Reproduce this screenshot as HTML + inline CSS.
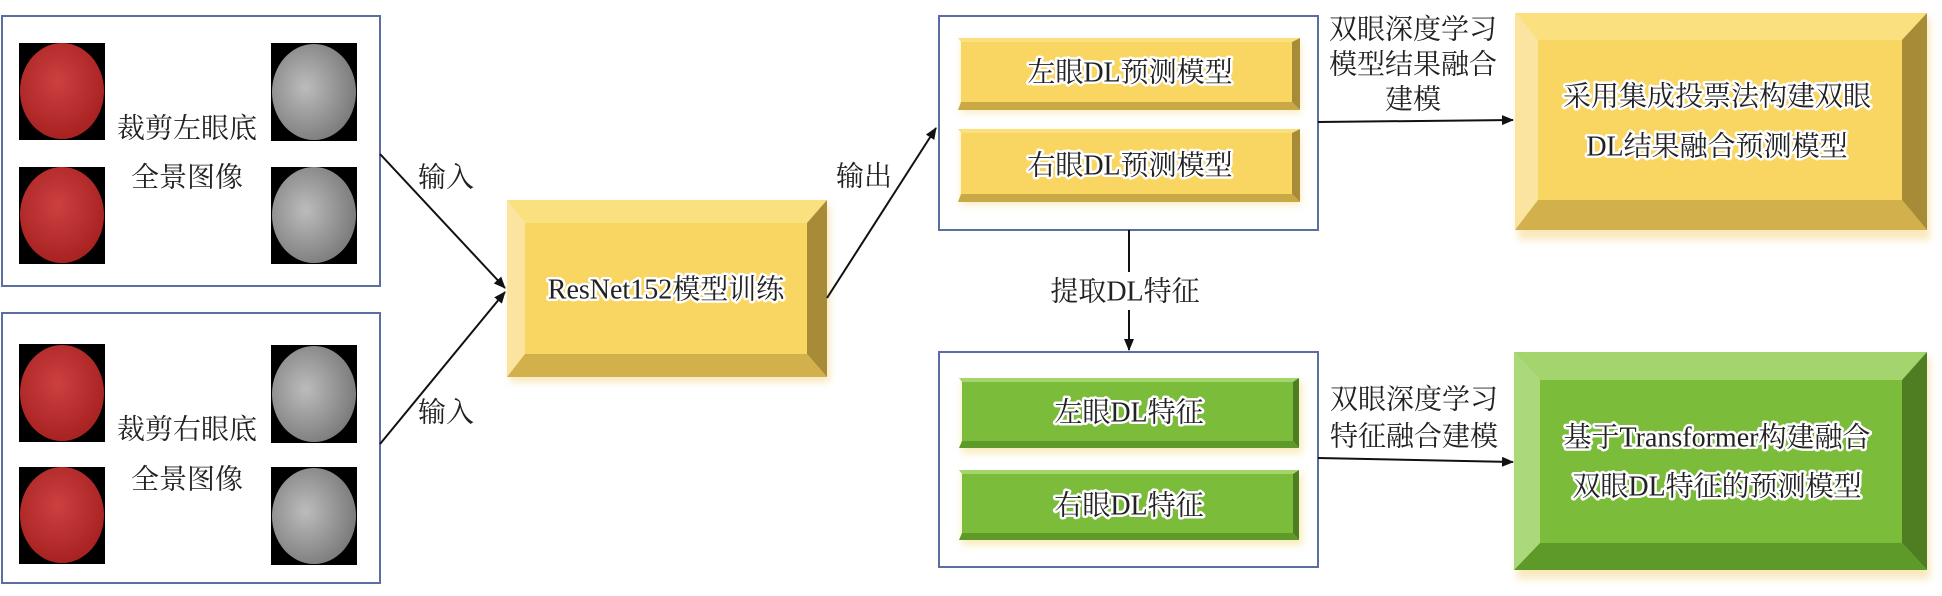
<!DOCTYPE html>
<html><head><meta charset="utf-8"><style>
html,body{margin:0;padding:0;background:#fff;}
svg{display:block;}
text{font-family:"Liberation Serif","Noto Serif CJK SC","Noto Sans CJK SC",serif;font-size:28px;fill:#222;text-anchor:middle;dominant-baseline:central;}
.h{stroke:#fff;stroke-width:5px;paint-order:stroke;stroke-linejoin:round;}
</style></head><body>
<svg width="1942" height="596" viewBox="0 0 1942 596" xmlns="http://www.w3.org/2000/svg">
<defs>
<marker id="ar" markerWidth="12" markerHeight="10" refX="11" refY="5" orient="auto" markerUnits="userSpaceOnUse">
<path d="M0,0 L12,5 L0,10 Z" fill="#111"/></marker>
<radialGradient id="red" cx="45%" cy="40%" r="60%"><stop offset="0" stop-color="#cc4040"/><stop offset="1" stop-color="#a82222"/></radialGradient>
<radialGradient id="gry" cx="40%" cy="45%" r="60%"><stop offset="0" stop-color="#bcbcbc"/><stop offset="1" stop-color="#7c7c7c"/></radialGradient>
<filter id="sh" x="-5%" y="-5%" width="110%" height="120%"><feGaussianBlur stdDeviation="4"/></filter>
</defs>

<!-- left boxes -->
<rect x="2" y="16" width="378" height="270" fill="#fff" stroke="#5a6fa0" stroke-width="2"/>
<rect x="2" y="313" width="378" height="270" fill="#fff" stroke="#5a6fa0" stroke-width="2"/>
<g>
<rect x="19" y="43" width="86" height="97" fill="#000"/><ellipse cx="62" cy="91" rx="42" ry="48" fill="url(#red)"/>
<rect x="19" y="167" width="86" height="97" fill="#000"/><ellipse cx="62" cy="215" rx="42" ry="48" fill="url(#red)"/>
<rect x="271" y="43" width="86" height="98" fill="#000"/><ellipse cx="314" cy="92" rx="42" ry="48" fill="url(#gry)"/>
<rect x="271" y="167" width="86" height="97" fill="#000"/><ellipse cx="314" cy="215" rx="42" ry="48" fill="url(#gry)"/>
<rect x="19" y="344" width="86" height="98" fill="#000"/><ellipse cx="62" cy="393" rx="42" ry="48" fill="url(#red)"/>
<rect x="19" y="467" width="86" height="97" fill="#000"/><ellipse cx="62" cy="515" rx="42" ry="48" fill="url(#red)"/>
<rect x="271" y="345" width="86" height="98" fill="#000"/><ellipse cx="314" cy="394" rx="42" ry="48" fill="url(#gry)"/>
<rect x="271" y="467" width="86" height="98" fill="#000"/><ellipse cx="314" cy="516" rx="42" ry="48" fill="url(#gry)"/>
</g>
<text x="187" y="129">裁剪左眼底</text>
<text x="187" y="178">全景图像</text>
<text x="187" y="430">裁剪右眼底</text>
<text x="187" y="480">全景图像</text>

<!-- arrows left -->
<line x1="380" y1="154" x2="505" y2="288" stroke="#111" stroke-width="2" marker-end="url(#ar)"/>
<line x1="380" y1="444" x2="505" y2="292" stroke="#111" stroke-width="2" marker-end="url(#ar)"/>
<text x="446" y="178">输入</text>
<text x="446" y="413">输入</text>

<!-- ResNet box -->
<rect x="510" y="205" width="320" height="177" fill="#f3d27a" filter="url(#sh)" opacity="0.5"/>
<rect x="525" y="223" width="284" height="131" fill="#f9d661"/>
<polygon points="507,200 827,200 807,223 525,223" fill="#fbe07f"/>
<polygon points="507,200 525,223 525,354 507,377" fill="#fbe3a0"/>
<polygon points="827,200 827,377 807,354 807,223" fill="#a88b36"/>
<polygon points="507,377 827,377 807,354 525,354" fill="#d2b04c"/>
<text x="666" y="290" class="h">ResNet152模型训练</text>

<line x1="827" y1="298" x2="936" y2="128" stroke="#111" stroke-width="2" marker-end="url(#ar)"/>
<text x="864" y="177">输出</text>

<!-- top mid box -->
<rect x="939" y="16" width="379" height="214" fill="#fff" stroke="#5a6fa0" stroke-width="2"/>
<rect x="961" y="41" width="340" height="72" fill="#f7df9a" filter="url(#sh)" opacity="0.6"/>
<rect x="961" y="40" width="331" height="62" fill="#f9d661"/>
<polygon points="958,38 1300,38 1292,42 961,42" fill="#fbe07f"/>
<polygon points="1300,38 1300,110 1292,102 1292,42" fill="#a88b36"/>
<polygon points="958,110 1300,110 1292,102 961,102" fill="#c9a945"/>
<text x="1130" y="73" class="h">左眼DL预测模型</text>
<rect x="961" y="132" width="340" height="73" fill="#f7df9a" filter="url(#sh)" opacity="0.6"/>
<rect x="961" y="131" width="331" height="63" fill="#f9d661"/>
<polygon points="958,129 1300,129 1292,133 961,133" fill="#fbe07f"/>
<polygon points="1300,129 1300,202 1292,194 1292,133" fill="#a88b36"/>
<polygon points="958,202 1300,202 1292,194 961,194" fill="#c9a945"/>
<text x="1130" y="166" class="h">右眼DL预测模型</text>

<line x1="1318" y1="122" x2="1513" y2="120" stroke="#111" stroke-width="2" marker-end="url(#ar)"/>
<text x="1413" y="30">双眼深度学习</text>
<text x="1413" y="65">模型结果融合</text>
<text x="1413" y="100">建模</text>

<!-- yellow big -->
<rect x="1518" y="18" width="412" height="222" fill="#f3d27a" filter="url(#sh)" opacity="0.5"/>
<rect x="1538" y="40" width="364" height="160" fill="#f9d661"/>
<polygon points="1515,13 1927,13 1902,40 1538,40" fill="#fbe07f"/>
<polygon points="1515,13 1538,40 1538,200 1515,230" fill="#fbe3a0"/>
<polygon points="1927,13 1927,230 1902,200 1902,40" fill="#a88b36"/>
<polygon points="1515,230 1927,230 1902,200 1538,200" fill="#d2b04c"/>
<text x="1717" y="97" class="h">采用集成投票法构建双眼</text>
<text x="1717" y="147" class="h">DL结果融合预测模型</text>

<!-- extract line -->
<line x1="1129" y1="230" x2="1129" y2="272" stroke="#111" stroke-width="2"/>
<text x="1125" y="292">提取DL特征</text>
<line x1="1129" y1="310" x2="1129" y2="350" stroke="#111" stroke-width="2" marker-end="url(#ar)"/>

<!-- bottom mid box -->
<rect x="939" y="352" width="379" height="215" fill="#fff" stroke="#5a6fa0" stroke-width="2"/>
<rect x="962" y="381" width="340" height="72" fill="#f5dd8a" filter="url(#sh)" opacity="0.6"/>
<rect x="962" y="380" width="331" height="61" fill="#7cbc3b"/>
<polygon points="959,378 1299,378 1293,382 962,382" fill="#a4d46e"/>
<polygon points="1299,378 1299,448 1293,441 1293,382" fill="#4e7d22"/>
<polygon points="959,448 1299,448 1293,441 962,441" fill="#5e9a2a"/>
<text x="1129" y="413" class="h">左眼DL特征</text>
<rect x="962" y="473" width="340" height="72" fill="#f5dd8a" filter="url(#sh)" opacity="0.6"/>
<rect x="962" y="472" width="331" height="61" fill="#7cbc3b"/>
<polygon points="959,470 1299,470 1293,474 962,474" fill="#a4d46e"/>
<polygon points="1299,470 1299,540 1293,533 1293,474" fill="#4e7d22"/>
<polygon points="959,540 1299,540 1293,533 962,533" fill="#5e9a2a"/>
<text x="1129" y="506" class="h">右眼DL特征</text>

<line x1="1318" y1="458" x2="1513" y2="462" stroke="#111" stroke-width="2" marker-end="url(#ar)"/>
<text x="1414" y="400">双眼深度学习</text>
<text x="1414" y="437">特征融合建模</text>

<!-- green big -->
<rect x="1517" y="357" width="413" height="222" fill="#f3d27a" filter="url(#sh)" opacity="0.5"/>
<rect x="1540" y="380" width="362" height="163" fill="#7cbc3b"/>
<polygon points="1514,352 1927,352 1902,380 1540,380" fill="#a4d46e"/>
<polygon points="1514,352 1540,380 1540,543 1514,570" fill="#acd87c"/>
<polygon points="1927,352 1927,570 1902,543 1902,380" fill="#4e7d22"/>
<polygon points="1514,570 1927,570 1902,543 1540,543" fill="#5e9a2a"/>
<text x="1717" y="438" class="h">基于Transformer构建融合</text>
<text x="1717" y="487" class="h">双眼DL特征的预测模型</text>
</svg>
</body></html>
